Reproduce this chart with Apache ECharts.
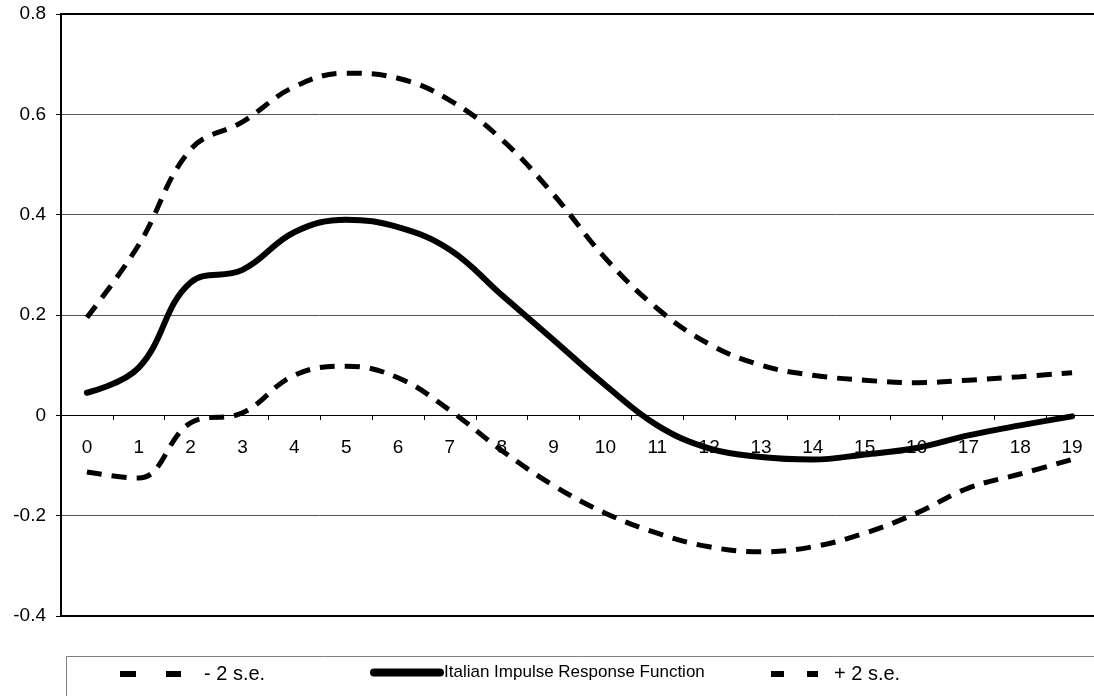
<!DOCTYPE html>
<html>
<head>
<meta charset="utf-8">
<script src="https://cdn.jsdelivr.net/npm/echarts@6/dist/echarts.min.js"></script>
<style>html,body{margin:0;padding:0;background:#fff}#c{width:1094px;height:696px}</style>
</head>
<body>
<div id="c"></div>
<script>
const categories = ['0','1','2','3','4','5','6','7','8','9','10','11','12','13','14','15','16','17','18','19'];
const lowerSE = [-0.113,-0.125,-0.015,0.005,0.08,0.098,0.075,0.01,-0.07,-0.14,-0.195,-0.235,-0.262,-0.272,-0.262,-0.235,-0.195,-0.145,-0.117,-0.088];
const irf = [0.045,0.095,0.265,0.29,0.365,0.39,0.375,0.33,0.24,0.15,0.06,-0.02,-0.066,-0.083,-0.088,-0.078,-0.065,-0.04,-0.02,-0.002];
const upperSE = [0.195,0.34,0.53,0.585,0.655,0.682,0.672,0.628,0.55,0.44,0.313,0.213,0.142,0.10,0.08,0.07,0.065,0.07,0.077,0.085];
const names = ['- 2 s.e.','Italian Impulse Response Function','+ 2 s.e.'];

const font = 'Liberation Sans, Arial, sans-serif';
const chart = echarts.init(document.getElementById('c'));
chart.setOption({
  animation: false,
  backgroundColor: '#fff',
  grid: {left: 61, width: 1037, top: 14, height: 602, containLabel: false, outerBoundsMode: 'none',
         show: true, borderColor: '#000', borderWidth: 2, backgroundColor: 'transparent'},
  graphic: [{
    type: 'rect', shape: {x: 66.5, y: 656.5, width: 1100, height: 60},
    style: {fill: 'none', stroke: '#808080', lineWidth: 1}, z: 0
  }],
  legend: [
    {data: [names[0]], left: 117, top: 664, padding: 0, itemWidth: 61, itemHeight: 20,
     textStyle: {fontFamily: font, fontSize: 20, color: '#000', padding: [6,0,0,18]},
     itemStyle: {opacity: 0}, lineStyle: {type: [16, 30], width: 6}},
    {data: [names[1]], left: 370, top: 664, padding: 0, itemWidth: 66, itemHeight: 20,
     textStyle: {fontFamily: font, fontSize: 17, color: '#000', padding: [6,0,0,-1]},
     itemStyle: {opacity: 0}, lineStyle: {width: 8, cap: 'round'}},
    {data: [names[2]], left: 768, top: 664, padding: 0, itemWidth: 47, itemHeight: 20,
     textStyle: {fontFamily: font, fontSize: 20, color: '#000', padding: [6,0,0,11]},
     itemStyle: {opacity: 0}, lineStyle: {type: [13, 23], width: 6}}
  ],
  xAxis: {
    type: 'category', data: categories, boundaryGap: true, position: 'bottom', offset: -201,
    axisLine: {onZero: false, lineStyle: {color: '#000', width: 1}},
    axisTick: {show: true, length: 5, inside: false, lineStyle: {color: '#000'}},
    axisLabel: {fontFamily: font, fontSize: 19, color: '#000', margin: 23},
    splitLine: {show: false}
  },
  yAxis: {
    type: 'value', min: -0.4, max: 0.8, interval: 0.2,
    axisLine: {show: true, onZero: false, lineStyle: {color: '#000', width: 2}},
    axisTick: {show: true, length: 5, lineStyle: {color: '#000'}},
    axisLabel: {fontFamily: font, fontSize: 19, color: '#000', margin: 15,
      formatter: v => (Math.round(v * 10) / 10).toString()},
    splitLine: {show: true, lineStyle: {color: ['#000','#555','#000','#555','#555','#555','#000'], width: 1}}
  },
  series: [
    {name: names[0], type: 'line', data: lowerSE, smooth: 0.4, symbol: 'none',
     lineStyle: {color: '#000', width: 5, type: [15, 10]}, itemStyle: {color: '#000'}, z: 2},
    {name: names[1], type: 'line', data: irf, smooth: 0.4, symbol: 'none',
     lineStyle: {color: '#000', width: 6, cap: 'round'}, itemStyle: {color: '#000'}, z: 3},
    {name: names[2], type: 'line', data: upperSE, smooth: 0.4, symbol: 'none',
     lineStyle: {color: '#000', width: 5, type: [15, 10]}, itemStyle: {color: '#000'}, z: 2}
  ]
});
</script>
</body>
</html>
